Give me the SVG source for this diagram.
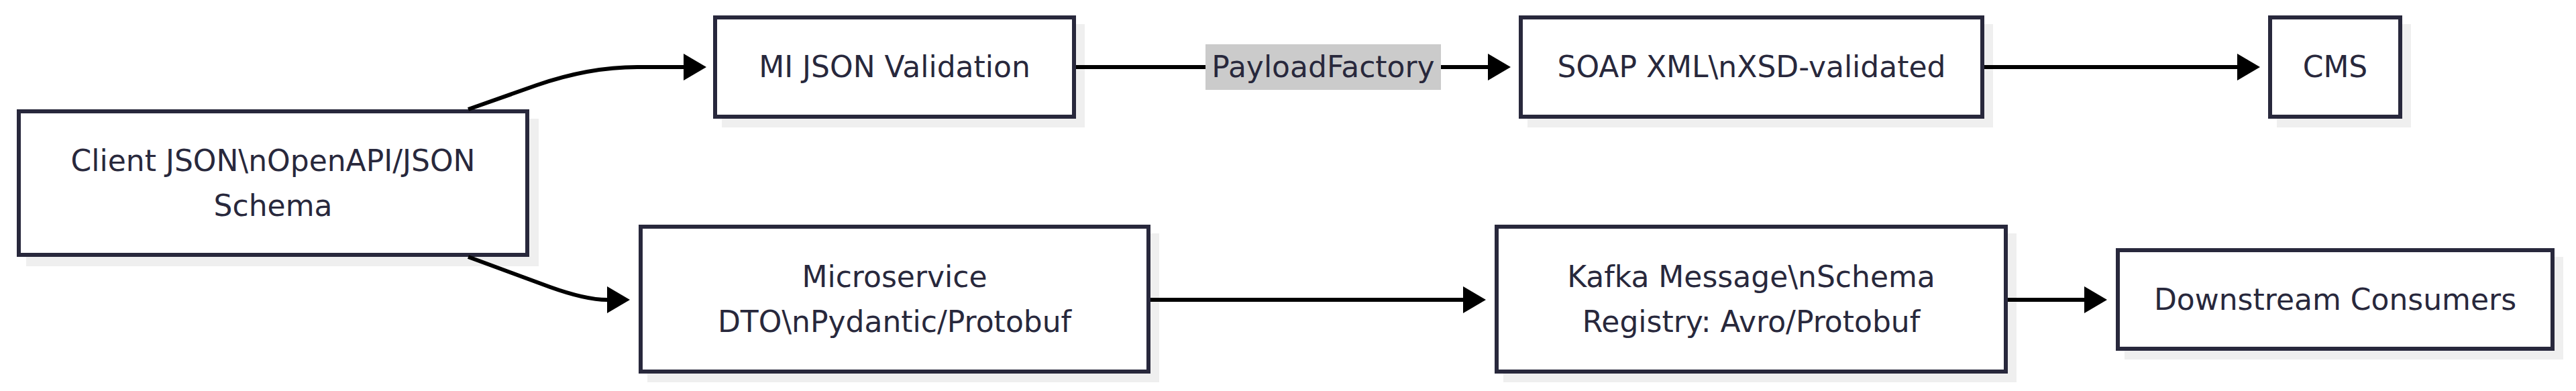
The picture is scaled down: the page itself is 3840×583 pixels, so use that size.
<svg xmlns="http://www.w3.org/2000/svg" width="3840" height="583" viewBox="0 0 3840 583">
<style>
.box{fill:#ffffff;stroke:#28283c;stroke-width:6}
.sh{fill:#efefef}
.t{font-family:"DejaVu Sans",sans-serif;font-size:44px;fill:#28283c;text-anchor:middle}
.e{fill:none;stroke:#000000;stroke-width:6}
.lbg{fill:#cbcbcb}
</style>
<defs>
<marker id="arr" markerUnits="userSpaceOnUse" markerWidth="34" markerHeight="40" refX="0" refY="20" orient="auto" viewBox="0 0 34 40" overflow="visible">
<path d="M0,0 L34,20 L0,40 z" fill="#000000"/>
</marker>
</defs>
<rect width="3840" height="583" fill="#ffffff"/>
<g id="client">
<rect class="sh" x="39" y="177" width="764" height="220"/>
<rect class="box" x="28" y="166" width="758" height="214"/>
<text class="t" x="407" y="254.5">Client JSON\nOpenAPI/JSON</text>
<text class="t" x="407" y="321.5">Schema</text>
</g>
<g id="mi">
<rect class="sh" x="1076" y="36" width="541" height="154"/>
<rect class="box" x="1066" y="26" width="535" height="148"/>
<text class="t" x="1333.5" y="115">MI JSON Validation</text>
</g>
<g id="soap">
<rect class="sh" x="2277" y="36" width="694" height="154"/>
<rect class="box" x="2267" y="26" width="688" height="148"/>
<text class="t" x="2611" y="115">SOAP XML\nXSD-validated</text>
</g>
<g id="cms">
<rect class="sh" x="3394" y="36" width="200" height="154"/>
<rect class="box" x="3384" y="26" width="194" height="148"/>
<text class="t" x="3481" y="115">CMS</text>
</g>
<g id="micro">
<rect class="sh" x="965" y="348" width="763" height="222"/>
<rect class="box" x="955" y="338" width="757" height="216"/>
<text class="t" x="1333.5" y="427.5">Microservice</text>
<text class="t" x="1333.5" y="494.5">DTO\nPydantic/Protobuf</text>
</g>
<g id="kafka">
<rect class="sh" x="2241" y="348" width="765" height="222"/>
<rect class="box" x="2231" y="338" width="759" height="216"/>
<text class="t" x="2610.5" y="427.5">Kafka Message\nSchema</text>
<text class="t" x="2610.5" y="494.5">Registry: Avro/Protobuf</text>
</g>
<g id="downstream">
<rect class="sh" x="3167" y="383" width="654" height="153"/>
<rect class="box" x="3157" y="373" width="648" height="147"/>
<text class="t" x="3481" y="461.5">Downstream Consumers</text>
</g>
<g id="connectors">
<path class="e" d="M698,163 L800,127 Q878,100 950,100 L1019,100" marker-end="url(#arr)"/>
<path class="e" d="M698,383 L820,428 Q873,447 905,447" marker-end="url(#arr)"/>
<path class="e" d="M1604,100 L2218,100" marker-end="url(#arr)"/>
<path class="e" d="M2958,100 L3335,100" marker-end="url(#arr)"/>
<path class="e" d="M1715,447 L2181,447" marker-end="url(#arr)"/>
<path class="e" d="M2993,447 L3107,447" marker-end="url(#arr)"/>
<g id="label-payload">
<rect class="lbg" x="1797" y="66" width="351" height="68"/>
<text class="t" x="1972.5" y="115">PayloadFactory</text>
</g>
</g>
</svg>
